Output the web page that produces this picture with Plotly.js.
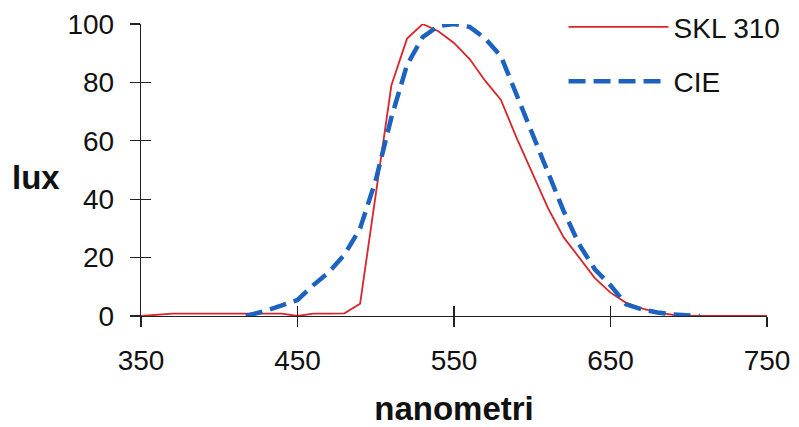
<!DOCTYPE html>
<html>
<head>
<meta charset="utf-8">
<script src="https://cdn.plot.ly/plotly-3.0.1.min.js"></script>
<style>
  html, body { margin: 0; padding: 0; background: #fff; }
  #chart { width: 799px; height: 427px; }
</style>
</head>
<body>
<div id="chart"></div>
<script>
// Wavelengths (nm) and relative response values
const sklWavelengths = [350, 360, 370, 380, 390, 400, 410, 420, 430, 440, 450, 460, 470, 480, 490, 500, 510, 520, 530, 540, 550, 560, 570, 580, 590, 600, 610, 620, 630, 640, 650, 660, 670, 680, 690, 700, 710, 720, 730, 740, 750];
const sklValues      = [0, 0.4, 0.8, 0.8, 0.8, 0.8, 0.8, 0.8, 0.8, 0.8, 0, 0.8, 0.8, 0.9, 4.2, 41, 79, 95, 100, 97.5, 93.5, 88, 80.5, 74, 61, 49, 37, 27, 20, 13, 8, 4.5, 2.6, 1.2, 0.4, 0, 0, 0, 0, 0, 0];

const cieWavelengths = [417, 430, 440, 450, 460, 470, 480, 490, 500, 510, 520, 530, 540, 550, 560, 570, 580, 590, 600, 610, 620, 630, 640, 650, 660, 670, 680, 690, 700, 707];
const cieValues      = [0, 1.8, 3.6, 5.5, 10.5, 15, 21, 30, 46.5, 68, 86, 95.5, 99.3, 100, 99, 95, 89, 76, 62.5, 49, 36, 24.5, 16, 10.5, 4, 2.3, 1.2, 0.5, 0.2, 0];

const seriesNames = ["SKL 310", "CIE"];
const xTicks = [350, 450, 550, 650, 750];
const yTicks = [0, 20, 40, 60, 80, 100];
const xTitle = "nanometri";
const yTitle = "lux";

const FONT = '"Liberation Sans", Arial, Helvetica, sans-serif';

const traces = [
  {
    x: sklWavelengths, y: sklValues, name: seriesNames[0],
    type: 'scatter', mode: 'lines',
    line: { color: '#d8262b', width: 1.8 },
    xaxis: 'x', yaxis: 'y', legendgroup: 'a'
  },
  {
    x: cieWavelengths, y: cieValues, name: seriesNames[1],
    type: 'scatter', mode: 'lines',
    line: { color: '#1c62c0', width: 4.5, dash: '17px,8px' },
    xaxis: 'x2', yaxis: 'y2', legendgroup: 'b'
  }
];

const common = {
  showgrid: false, zeroline: false, showline: false,
  tickcolor: '#222', tickwidth: 1.3, ticklen: 10,
  fixedrange: true, automargin: false
};

const layout = {
  width: 799, height: 427,
  margin: { l: 141, r: 32, t: 24, b: 111, autoexpand: false },
  paper_bgcolor: '#fff', plot_bgcolor: '#fff',
  font: { family: FONT, color: '#111', size: 28 },
  showlegend: true,
  legend: {
    x: 0.675, y: 1.075, xanchor: 'left', yanchor: 'top',
    bgcolor: 'rgba(0,0,0,0)', borderwidth: 0,
    font: { family: FONT, size: 28, color: '#111' },
    itemwidth: 100, tracegroupgap: 15, traceorder: 'grouped'
  },
  xaxis: Object.assign({}, common, {
    range: [350, 750], tickmode: 'array', tickvals: xTicks,
    ticks: 'outside', showline: true, linecolor: '#222', linewidth: 1.3,
    tickfont: { family: FONT, size: 28, color: '#111' },
    ticklabelstandoff: 9,
    title: { text: xTitle, font: { family: FONT, size: 33, weight: 'bold', color: '#111' }, standoff: 29 },
    anchor: 'y'
  }),
  yaxis: Object.assign({}, common, {
    range: [0, 100], tickmode: 'array', tickvals: yTicks,
    ticks: 'outside', showline: true, linecolor: '#222', linewidth: 1.3,
    tickfont: { family: FONT, size: 28, color: '#111' },
    ticklabelstandoff: 10,
    anchor: 'x'
  }),
  xaxis2: Object.assign({}, common, {
    range: [350, 750], tickmode: 'array', tickvals: xTicks,
    ticks: 'inside', showticklabels: false,
    overlaying: 'x', anchor: 'y2'
  }),
  yaxis2: Object.assign({}, common, {
    range: [0, 100], tickmode: 'array', tickvals: yTicks,
    ticks: 'inside', showticklabels: false,
    overlaying: 'y', anchor: 'x2'
  }),
  annotations: [
    {
      text: yTitle, xref: 'paper', yref: 'paper',
      x: -0.168, y: 0.475, xanchor: 'center', yanchor: 'middle',
      showarrow: false,
      font: { family: FONT, size: 33, weight: 'bold', color: '#111' }
    }
  ]
};

Plotly.newPlot('chart', traces, layout, { displayModeBar: false, staticPlot: true });
</script>
</body>
</html>
